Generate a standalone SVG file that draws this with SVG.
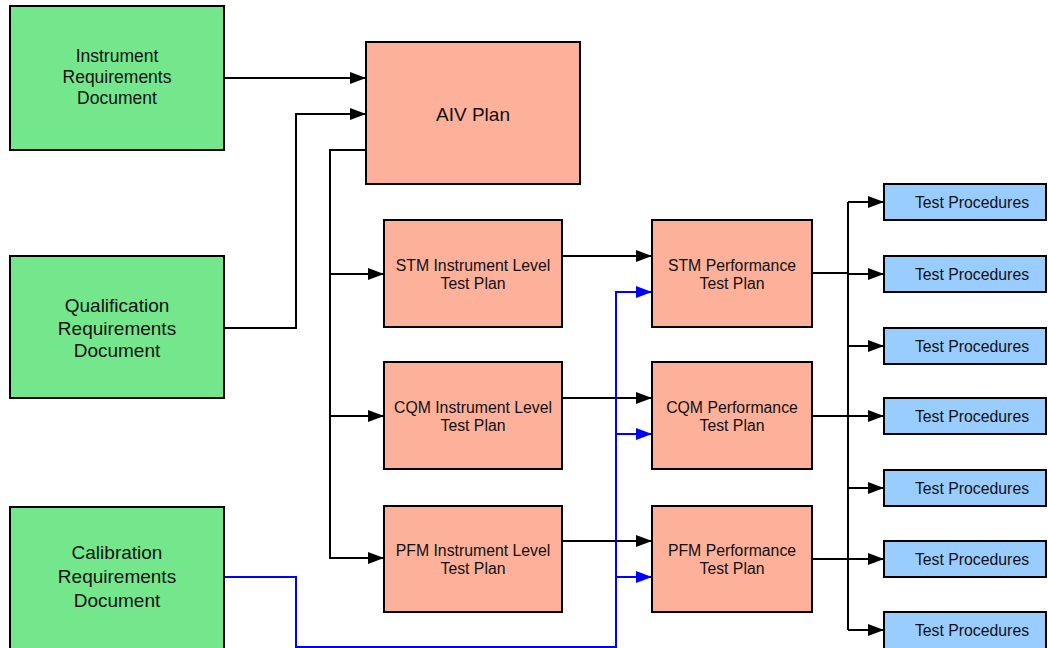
<svg xmlns="http://www.w3.org/2000/svg" width="1048" height="648" viewBox="0 0 1048 648">
  <style>
    .doc { fill: #74e68c; stroke: #000; stroke-width: 2; }
    .plan { fill: #fdb09a; stroke: #000; stroke-width: 2; }
    .proc { fill: #99ccff; stroke: #000; stroke-width: 2; }
    text { font-family: "Liberation Sans", Arial, sans-serif; fill: #111; text-anchor: middle; dominant-baseline: central; }
    .t17 { font-size: 17.5px; }
    .t19 { font-size: 19px; }
    .t15 { font-size: 15.8px; }
    .ln { fill: none; stroke: #000; stroke-width: 2; }
    .bl { fill: none; stroke: #0000ff; stroke-width: 2; }
  </style>
  <defs>
    <marker id="ah" markerUnits="userSpaceOnUse" markerWidth="16" markerHeight="12" refX="16" refY="6" orient="auto">
      <path d="M0,0 L16,6 L0,12 Z" fill="#000"/>
    </marker>
    <marker id="ahb" markerUnits="userSpaceOnUse" markerWidth="16" markerHeight="12" refX="16" refY="6" orient="auto">
      <path d="M0,0 L16,6 L0,12 Z" fill="#0000ff"/>
    </marker>
  </defs>

  <rect width="1048" height="648" fill="#fff"/>

  <g id="connectors">
    <!-- requirement documents into the AIV plan -->
    <path class="ln" d="M224,78 H366" marker-end="url(#ah)"/>
    <path class="ln" d="M224,328 H296 V114 H366" marker-end="url(#ah)"/>
    <!-- AIV plan to instrument level test plans -->
    <path class="ln" d="M366,150 H330 V558 H384" marker-end="url(#ah)"/>
    <path class="ln" d="M330,274 H384" marker-end="url(#ah)"/>
    <path class="ln" d="M330,416 H384" marker-end="url(#ah)"/>
    <!-- instrument level to performance test plans -->
    <path class="ln" d="M562,256 H652" marker-end="url(#ah)"/>
    <path class="ln" d="M562,398 H652" marker-end="url(#ah)"/>
    <path class="ln" d="M562,541 H652" marker-end="url(#ah)"/>
    <!-- calibration requirements feed -->
    <path class="bl" d="M224,577 H296 V647 H616 V292 H652" marker-end="url(#ahb)"/>
    <path class="bl" d="M616,434 H652" marker-end="url(#ahb)"/>
    <path class="bl" d="M616,577 H652" marker-end="url(#ahb)"/>
    <!-- performance plans to test procedures -->
    <path class="ln" d="M848,202 V630"/>
    <path class="ln" d="M812,273 H848"/>
    <path class="ln" d="M812,416 H848"/>
    <path class="ln" d="M812,559 H848"/>
    <path class="ln" d="M848,202 H884" marker-end="url(#ah)"/>
    <path class="ln" d="M848,274 H884" marker-end="url(#ah)"/>
    <path class="ln" d="M848,346 H884" marker-end="url(#ah)"/>
    <path class="ln" d="M848,416 H884" marker-end="url(#ah)"/>
    <path class="ln" d="M848,488 H884" marker-end="url(#ah)"/>
    <path class="ln" d="M848,559 H884" marker-end="url(#ah)"/>
    <path class="ln" d="M848,630 H884" marker-end="url(#ah)"/>
  </g>

  <g id="instrument-req">
    <rect class="doc" x="10" y="6" width="214" height="144"/>
    <text class="t17" x="117" y="56">Instrument</text>
    <text class="t17" x="117" y="77">Requirements</text>
    <text class="t17" x="117" y="98">Document</text>
  </g>
  <g id="qualification-req">
    <rect class="doc" x="10" y="256" width="214" height="142"/>
    <text class="t19" x="117" y="305">Qualification</text>
    <text class="t19" x="117" y="328">Requirements</text>
    <text class="t19" x="117" y="350">Document</text>
  </g>
  <g id="calibration-req">
    <rect class="doc" x="10" y="507" width="214" height="145"/>
    <text class="t19" x="117" y="552">Calibration</text>
    <text class="t19" x="117" y="576">Requirements</text>
    <text class="t19" x="117" y="600">Document</text>
  </g>

  <g id="aiv-plan">
    <rect class="plan" x="366" y="42" width="214" height="142"/>
    <text class="t19" x="473" y="114">AIV Plan</text>
  </g>

  <g id="stm-instrument">
    <rect class="plan" x="384" y="220" width="178" height="107"/>
    <text class="t15" x="473" y="265">STM Instrument Level</text>
    <text class="t15" x="473" y="283">Test Plan</text>
  </g>
  <g id="cqm-instrument">
    <rect class="plan" x="384" y="362" width="178" height="107"/>
    <text class="t15" x="473" y="407">CQM Instrument Level</text>
    <text class="t15" x="473" y="425">Test Plan</text>
  </g>
  <g id="pfm-instrument">
    <rect class="plan" x="384" y="506" width="178" height="106"/>
    <text class="t15" x="473" y="550">PFM Instrument Level</text>
    <text class="t15" x="473" y="568">Test Plan</text>
  </g>

  <g id="stm-performance">
    <rect class="plan" x="652" y="220" width="160" height="107"/>
    <text class="t15" x="732" y="265">STM Performance</text>
    <text class="t15" x="732" y="283">Test Plan</text>
  </g>
  <g id="cqm-performance">
    <rect class="plan" x="652" y="362" width="160" height="107"/>
    <text class="t15" x="732" y="407">CQM Performance</text>
    <text class="t15" x="732" y="425">Test Plan</text>
  </g>
  <g id="pfm-performance">
    <rect class="plan" x="652" y="506" width="160" height="106"/>
    <text class="t15" x="732" y="550">PFM Performance</text>
    <text class="t15" x="732" y="568">Test Plan</text>
  </g>

  <g id="test-proc-1">
    <rect class="proc" x="884" y="184" width="162" height="36"/>
    <text class="t15" x="972" y="202">Test Procedures</text>
  </g>
  <g id="test-proc-2">
    <rect class="proc" x="884" y="256" width="162" height="36"/>
    <text class="t15" x="972" y="274">Test Procedures</text>
  </g>
  <g id="test-proc-3">
    <rect class="proc" x="884" y="328" width="162" height="36"/>
    <text class="t15" x="972" y="346">Test Procedures</text>
  </g>
  <g id="test-proc-4">
    <rect class="proc" x="884" y="398" width="162" height="36"/>
    <text class="t15" x="972" y="416">Test Procedures</text>
  </g>
  <g id="test-proc-5">
    <rect class="proc" x="884" y="470" width="162" height="36"/>
    <text class="t15" x="972" y="488">Test Procedures</text>
  </g>
  <g id="test-proc-6">
    <rect class="proc" x="884" y="541" width="162" height="36"/>
    <text class="t15" x="972" y="559">Test Procedures</text>
  </g>
  <g id="test-proc-7">
    <rect class="proc" x="884" y="612" width="162" height="40"/>
    <text class="t15" x="972" y="630">Test Procedures</text>
  </g>
</svg>
